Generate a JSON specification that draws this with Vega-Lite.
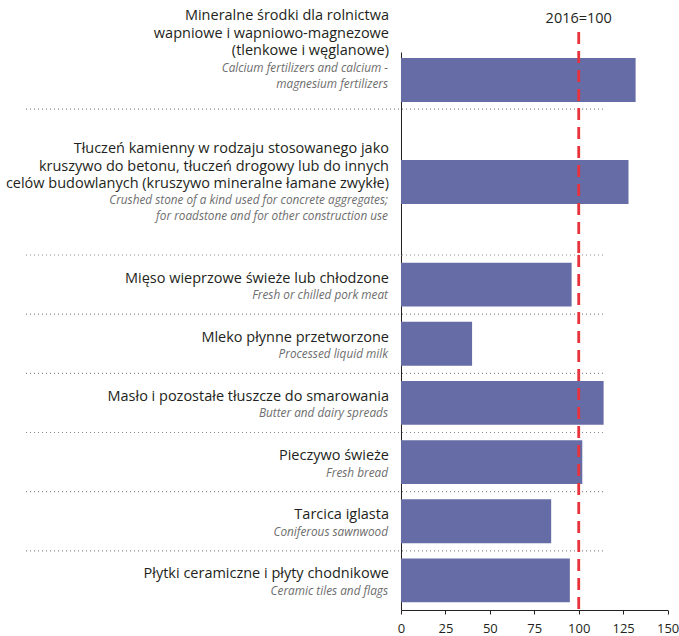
{
  "$schema": "https://vega.github.io/schema/vega-lite/v6.json",
  "padding": {"left": 5, "top": 8, "right": 0, "bottom": 0},
  "background": "white",
  "spacing": 0,
  "bounds": "flush",
  "config": {"view": {"stroke": null}, "font": "Open Sans"},
  "datasets": {
    "rows": [
      {"id": "1", "pl": "Mineralne środki dla rolnictwa\nwapniowe i wapniowo-magnezowe\n(tlenkowe i węglanowe)", "en": "Calcium fertilizers and calcium -\nmagnesium fertilizers", "value": 132},
      {"id": "2", "pl": "Tłuczeń kamienny w rodzaju stosowanego jako\nkruszywo do betonu, tłuczeń drogowy lub do innych\ncelów budowlanych (kruszywo mineralne łamane zwykłe)", "en": "Crushed stone of a kind used for concrete aggregates;\nfor roadstone and for other construction use", "value": 128},
      {"id": "3", "pl": "Mięso wieprzowe świeże lub chłodzone", "en": "Fresh or chilled pork meat", "value": 96},
      {"id": "4", "pl": "Mleko płynne przetworzone", "en": "Processed liquid milk", "value": 40},
      {"id": "5", "pl": "Masło i pozostałe tłuszcze do smarowania", "en": "Butter and dairy spreads", "value": 114},
      {"id": "6", "pl": "Pieczywo świeże", "en": "Fresh bread", "value": 102},
      {"id": "7", "pl": "Tarcica iglasta", "en": "Coniferous sawnwood", "value": 84.5},
      {"id": "8", "pl": "Płytki ceramiczne i płyty chodnikowe", "en": "Ceramic tiles and flags", "value": 95}
    ]
  },
  "vconcat": [
    {
      "width": 266.6,
      "height": 203,
      "layer": [
        {
          "data": {"name": "rows"},
          "transform": [{"filter": "datum.id == '1' || datum.id == '2'"}],
          "mark": {"type": "bar", "color": "#666ca5"},
          "encoding": {
            "x": {"field": "value", "type": "quantitative", "scale": {"domain": [0, 150], "nice": false}, "axis": null},
            "y": {"field": "id", "type": "nominal", "scale": {"domain": ["1", "s1", "2", "s2"], "paddingInner": 0.1373, "paddingOuter": 0.059, "align": 1, "round": false}, "axis": {"labels": false, "ticks": false, "title": null, "domainColor": "#231f20", "domainWidth": 1}}
          }
        },
        {
          "data": {"name": "rows"},
          "transform": [{"filter": "datum.id == '1'"}],
          "mark": {"type": "rule", "color": "#8a8a8a", "strokeWidth": 1.2, "strokeDash": [1, 3]},
          "encoding": {
            "x": {"datum": -211, "axis": null},
            "x2": {"datum": 114},
            "y": {"field": "id", "type": "nominal", "bandPosition": 1.16}
          }
        },
        {
          "data": {"values": [{}]},
          "mark": {"type": "rule", "color": "#e8333c", "strokeWidth": 2.8, "strokeDash": [12, 7]},
          "encoding": {
            "x": {"datum": 100, "axis": null},
            "y": {"datum": "1", "bandPosition": -0.59},
            "y2": {"datum": "s2", "bandPosition": 1}
          }
        },
        {
          "data": {"values": [{}]},
          "mark": {"type": "text", "align": "center", "baseline": "alphabetic", "fontSize": 14.5, "color": "#231f20"},
          "encoding": {
            "x": {"datum": 100, "axis": null},
            "y": {"datum": "1", "bandPosition": -0.8},
            "text": {"value": "2016=100"}
          }
        },
        {
          "data": {"name": "rows"},
          "transform": [{"filter": "datum.id == '1'"}],
          "mark": {"type": "text", "align": "right", "baseline": "alphabetic", "dx": -12, "dy": -60, "fontSize": 14.5, "lineHeight": 17.7, "lineBreak": "\n", "color": "#231f20"},
          "encoding": {
            "x": {"datum": 0, "axis": null},
            "y": {"field": "id", "type": "nominal"},
            "text": {"field": "pl"}
          }
        },
        {
          "data": {"name": "rows"},
          "transform": [{"filter": "datum.id == '1'"}],
          "mark": {"type": "text", "align": "right", "baseline": "alphabetic", "dx": -13, "dy": -8.3, "fontSize": 11.8, "fontStyle": "italic", "lineHeight": 16.5, "lineBreak": "\n", "color": "#6d6d6d"},
          "encoding": {
            "x": {"datum": 0, "axis": null},
            "y": {"field": "id", "type": "nominal"},
            "text": {"field": "en"}
          }
        },
        {
          "data": {"name": "rows"},
          "transform": [{"filter": "datum.id == '2'"}],
          "mark": {"type": "text", "align": "right", "baseline": "alphabetic", "dx": -12, "dy": -28.7, "fontSize": 14.5, "lineHeight": 17.5, "lineBreak": "\n", "color": "#231f20"},
          "encoding": {
            "x": {"datum": 0, "axis": null},
            "y": {"field": "id", "type": "nominal"},
            "text": {"field": "pl"}
          }
        },
        {
          "data": {"name": "rows"},
          "transform": [{"filter": "datum.id == '2'"}],
          "mark": {"type": "text", "align": "right", "baseline": "alphabetic", "dx": -13, "dy": 22, "fontSize": 11.8, "fontStyle": "italic", "lineHeight": 16.5, "lineBreak": "\n", "color": "#6d6d6d"},
          "encoding": {
            "x": {"datum": 0, "axis": null},
            "y": {"field": "id", "type": "nominal"},
            "text": {"field": "en"}
          }
        }
      ]
    },
    {
      "width": 266.6,
      "height": 355,
      "layer": [
        {
          "data": {"name": "rows"},
          "transform": [{"filter": "datum.id > '2'"}],
          "mark": {"type": "bar", "color": "#666ca5"},
          "encoding": {
            "x": {"field": "value", "type": "quantitative", "scale": {"domain": [0, 150], "nice": false}, "axis": {"values": [0, 25, 50, 75, 100, 125, 150], "title": null, "grid": false, "labelFontSize": 13, "labelColor": "#231f20", "labelFont": "Open Sans", "tickSize": 4, "labelPadding": 9, "domainColor": "#231f20", "tickColor": "#231f20", "labelFlush": false}},
            "y": {"field": "id", "type": "nominal", "scale": {"domain": ["3", "4", "5", "6", "7", "8"], "paddingInner": 0.258, "paddingOuter": 0.129, "round": false}, "axis": {"labels": false, "ticks": false, "title": null, "domainColor": "#231f20", "domainWidth": 1}}
          }
        },
        {
          "data": {"name": "rows"},
          "transform": [{"filter": "datum.id > '2'"}],
          "mark": {"type": "rule", "color": "#8a8a8a", "strokeWidth": 1.2, "strokeDash": [1, 3]},
          "encoding": {
            "x": {"datum": -211},
            "x2": {"datum": 114},
            "y": {"field": "id", "type": "nominal", "bandPosition": -0.174}
          }
        },
        {
          "data": {"values": [{}]},
          "mark": {"type": "rule", "color": "#e8333c", "strokeWidth": 2.8, "strokeDash": [12, 7]},
          "encoding": {
            "x": {"datum": 100}
          }
        },
        {
          "data": {"name": "rows"},
          "transform": [{"filter": "datum.id > '2'"}],
          "mark": {"type": "text", "align": "right", "baseline": "alphabetic", "dx": -12, "dy": -2, "fontSize": 14.5, "lineBreak": "\n", "color": "#231f20"},
          "encoding": {
            "x": {"datum": 0},
            "y": {"field": "id", "type": "nominal"},
            "text": {"field": "pl"}
          }
        },
        {
          "data": {"name": "rows"},
          "transform": [{"filter": "datum.id > '2'"}],
          "mark": {"type": "text", "align": "right", "baseline": "alphabetic", "dx": -13, "dy": 14.5, "fontSize": 11.8, "fontStyle": "italic", "lineBreak": "\n", "color": "#6d6d6d"},
          "encoding": {
            "x": {"datum": 0},
            "y": {"field": "id", "type": "nominal"},
            "text": {"field": "en"}
          }
        }
      ]
    }
  ]
}
